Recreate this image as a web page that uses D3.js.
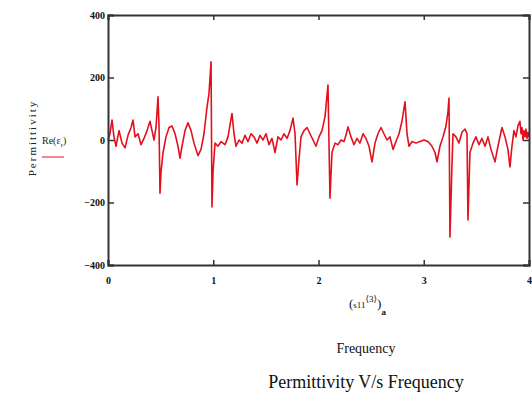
<!doctype html>
<html>
<head>
<meta charset="utf-8">
<style>
  body { margin: 0; background: #fff; }
  svg text { font-family: "Liberation Serif", "DejaVu Serif", serif; }
  .tick text { font-size: 10px; font-weight: bold; fill: #111; }
</style>
</head>
<body>
<div id="vis"></div>
<script src="https://d3js.org/d3.v7.min.js"></script>
<script>
// frequency (x) and Re(eps_r) (y)
var freq = [0, 0.019, 0.038, 0.057, 0.076, 0.105, 0.133, 0.162, 0.19, 0.219, 0.238, 0.257, 0.285, 0.314, 0.342, 0.371, 0.399, 0.418, 0.437, 0.456,
  0.475, 0.485, 0.494, 0.504, 0.523, 0.551, 0.58, 0.608, 0.637, 0.665, 0.684, 0.703, 0.732, 0.76, 0.789, 0.817, 0.855, 0.884, 0.912, 0.941,
  0.96, 0.979, 0.988, 0.998, 1.017, 1.045, 1.074, 1.112, 1.14, 1.178, 1.197, 1.216, 1.245, 1.273, 1.302, 1.33, 1.359, 1.387, 1.416, 1.444,
  1.473, 1.501, 1.53, 1.558, 1.587, 1.615, 1.644, 1.672, 1.701, 1.729, 1.758, 1.777, 1.796, 1.815, 1.834, 1.862, 1.891, 1.919, 1.948, 1.976,
  2.005, 2.033, 2.062, 2.09, 2.109, 2.128, 2.157, 2.185, 2.214, 2.242, 2.261, 2.28, 2.309, 2.337, 2.366, 2.394, 2.423, 2.451, 2.48, 2.508,
  2.537, 2.565, 2.594, 2.622, 2.651, 2.679, 2.708, 2.736, 2.765, 2.793, 2.822, 2.841, 2.86, 2.888, 2.926, 2.964, 3.002, 3.04, 3.078, 3.107,
  3.126, 3.154, 3.183, 3.211, 3.23, 3.24, 3.249, 3.268, 3.278, 3.306, 3.335, 3.363, 3.392, 3.411, 3.42, 3.439, 3.468, 3.496, 3.525, 3.553,
  3.582, 3.61, 3.639, 3.677, 3.705, 3.743, 3.772, 3.8, 3.819, 3.838, 3.857, 3.876, 3.895, 3.914, 3.924, 3.933, 3.943, 3.952, 3.962, 3.971,
  3.981, 3.99, 4.0];
var reEps = [0, 20, 64, 10, -20, 30, -10, -25, 15, 40, 64, 10, 20, -15, 5, 30, 60, 30, 0, 40,
  138, 40, -170, -100, -40, 10, 40, 45, 20, -20, -58, -20, 30, 55, 30, -10, -50, -30, 20, 106,
  150, 250, -214, -100, -10, -20, -5, -15, 10, 85, 20, -20, 0, -10, 15, -5, 20, 10, -10, 15,
  0, 20, -15, 5, -40, 10, 0, 20, 5, 30, 70, 20, -144, -60, 10, 30, 40, 20, 0, -20,
  10, 30, 75, 176, -186, -40, -10, -15, 0, -5, 15, 42, 10, -15, 5, -10, 20, 5, -20, -70,
  -10, 20, 40, 20, 0, 10, -30, -5, 20, 60, 122, 20, -20, -5, -10, -5, 0, -5, -20, -40,
  -70, -20, 10, 44, 90, 134, -310, -80, 20, 10, -10, 25, 35, 20, -256, -40, -10, 10, -15, 5,
  -20, 10, -30, -70, -20, 40, 10, -30, -86, -20, 30, 10, 45, 60, 20, 40, 0, 30, 10, 35,
  5, 25, 10];
var xTicks = [0, 1, 2, 3, 4];
var yTicks = [-400, -200, 0, 200, 400];

var W = 532, H = 394;
var margin = {top: 15, right: 3, bottom: 129, left: 108};

var svg = d3.select('#vis').append('svg').attr('width', W).attr('height', H);

var x = d3.scaleLinear().domain([0, 4]).range([margin.left, W - margin.right]);
var y = d3.scaleLinear().domain([-400, 400]).range([H - margin.bottom, margin.top]);

// data line
var line = d3.line().x(function(d, i){ return x(freq[i]); }).y(function(d){ return y(d); });
svg.append('path').datum(reEps).attr('d', line)
  .attr('fill', 'none').attr('stroke', '#e3101c').attr('stroke-width', 1.6).attr('stroke-linejoin', 'round');

// axes: inward ticks on all four sides
svg.append('g').attr('transform', 'translate(0,' + y(-400) + ')')
  .call(d3.axisBottom(x).tickValues(xTicks).tickSize(-5).tickPadding(12).tickFormat(d3.format('d')));
svg.append('g').attr('transform', 'translate(0,' + y(400) + ')')
  .call(d3.axisTop(x).tickValues(xTicks).tickSize(-5).tickFormat(''));
svg.append('g').attr('transform', 'translate(' + x(0) + ',0)')
  .call(d3.axisLeft(y).tickValues(yTicks).tickSize(-6).tickPadding(3).tickFormat(function(d){ return d < 0 ? '\u2212' + (-d) : d; }));
svg.append('g').attr('transform', 'translate(' + x(4) + ',0)')
  .call(d3.axisRight(y).tickValues(yTicks).tickSize(-6).tickFormat(''));

svg.selectAll('.domain').attr('stroke', '#333').attr('stroke-width', 2);
svg.selectAll('.tick line').attr('stroke', '#333').attr('stroke-width', 1.5);
svg.selectAll('.tick text').attr('font-family', '"Liberation Serif", serif');

// y axis label
svg.append('text').attr('transform', 'translate(36,138) rotate(-90)')
  .attr('text-anchor', 'middle').style('font-size', '11px').style('fill', '#223').style('letter-spacing', '2px')
  .text('Permittivity');

// legend
var lg = svg.append('text').attr('x', 42).attr('y', 144).style('font-size', '10px').style('fill', '#222');
lg.append('tspan').text('Re(\u03b5');
lg.append('tspan').attr('dy', 3).style('font-size', '7px').text('r');
lg.append('tspan').attr('dy', -3).text(')');
svg.append('line').attr('x1', 42).attr('x2', 64).attr('y1', 157).attr('y2', 157)
  .attr('stroke', '#e3101c').attr('stroke-width', 1);

// x axis expression label
var xl = svg.append('text').attr('x', 349).attr('y', 308).style('font-size', '13px').style('fill', '#111');
xl.append('tspan').text('(');
xl.append('tspan').style('font-size', '9px').text('s11');
xl.append('tspan').attr('dy', -6).style('font-size', '9px').text('\u27e83\u27e9');
xl.append('tspan').attr('dy', 6).text(')');
xl.append('tspan').attr('dy', 7).style('font-size', '9px').style('font-weight', 'bold').text('a');

svg.append('text').attr('x', 366).attr('y', 353).attr('text-anchor', 'middle')
  .style('font-size', '14px').style('fill', '#111').text('Frequency');

svg.append('text').attr('x', 366).attr('y', 388).attr('text-anchor', 'middle')
  .style('font-size', '18px').style('fill', '#111').text('Permittivity V/s Frequency');
</script>
</body>
</html>
